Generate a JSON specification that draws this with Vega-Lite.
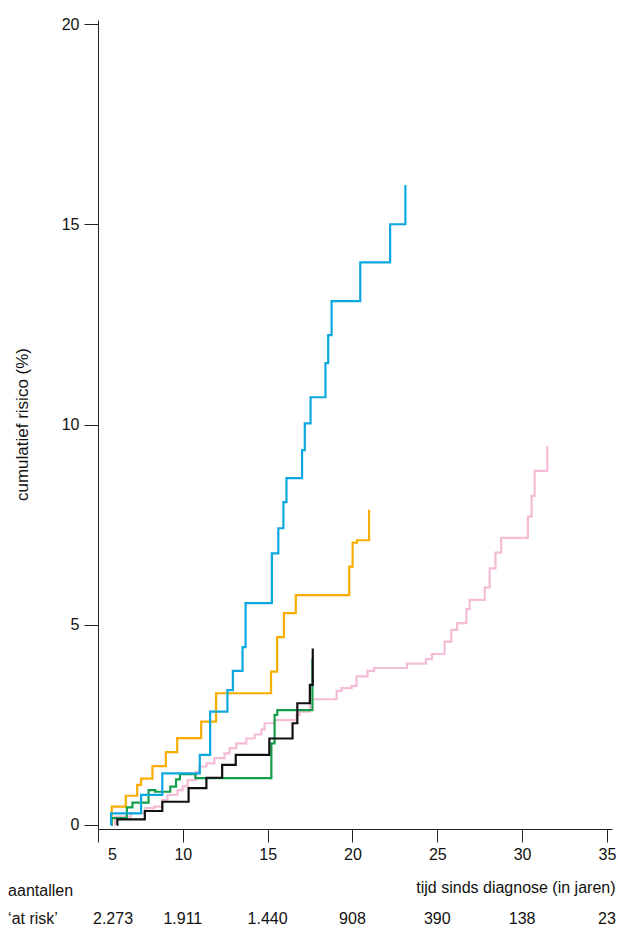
{
  "$schema": "https://vega.github.io/schema/vega-lite/v6.json",
  "width": 514,
  "height": 809,
  "autosize": {"type": "none"},
  "padding": {"left": 98, "top": 20, "right": 6, "bottom": 99},
  "background": "white",
  "config": {
    "view": {"stroke": null},
    "font": "Liberation Sans",
    "axis": {"grid": false, "domainColor": "#222", "tickColor": "#222", "labelColor": "#111", "titleColor": "#111", "labelFont": "Liberation Sans", "titleFont": "Liberation Sans", "titleFontWeight": "normal", "labelFontSize": 16, "titleFontSize": 16}
  },
  "datasets": {
    "curves": [
      {"g":"blue","t":5.76,"v":0},{"g":"blue","t":5.77,"v":0.29},{"g":"blue","t":7.54,"v":0.75},{"g":"blue","t":8.79,"v":1.29},{"g":"blue","t":11.0,"v":1.75},{"g":"blue","t":11.61,"v":2.83},{"g":"blue","t":12.63,"v":3.37},{"g":"blue","t":12.95,"v":3.85},{"g":"blue","t":13.52,"v":4.44},{"g":"blue","t":13.7,"v":5.54},{"g":"blue","t":15.25,"v":6.78},{"g":"blue","t":15.63,"v":7.41},{"g":"blue","t":15.93,"v":8.06},{"g":"blue","t":16.11,"v":8.66},{"g":"blue","t":17.03,"v":9.36},{"g":"blue","t":17.19,"v":10.03},{"g":"blue","t":17.53,"v":10.68},{"g":"blue","t":18.41,"v":11.53},{"g":"blue","t":18.57,"v":12.23},{"g":"blue","t":18.77,"v":13.08},{"g":"blue","t":20.46,"v":14.05},{"g":"blue","t":22.22,"v":15.0},{"g":"blue","t":23.12,"v":15.98},
      {"g":"orange","t":5.8,"v":0},{"g":"orange","t":5.81,"v":0.46},{"g":"orange","t":6.64,"v":0.73},{"g":"orange","t":7.31,"v":1.0},{"g":"orange","t":7.54,"v":1.16},{"g":"orange","t":8.21,"v":1.47},{"g":"orange","t":9.0,"v":1.82},{"g":"orange","t":9.67,"v":2.17},{"g":"orange","t":11.08,"v":2.58},{"g":"orange","t":11.96,"v":3.29},{"g":"orange","t":15.2,"v":3.83},{"g":"orange","t":15.56,"v":4.69},{"g":"orange","t":15.96,"v":5.29},{"g":"orange","t":16.66,"v":5.74},{"g":"orange","t":19.81,"v":6.45},{"g":"orange","t":20.01,"v":7.05},{"g":"orange","t":20.27,"v":7.11},{"g":"orange","t":20.98,"v":7.87},
      {"g":"pink","t":5.99,"v":0},{"g":"pink","t":6.0,"v":0.21},{"g":"pink","t":6.95,"v":0.3},{"g":"pink","t":7.78,"v":0.42},{"g":"pink","t":8.31,"v":0.46},{"g":"pink","t":8.79,"v":0.62},{"g":"pink","t":9.1,"v":0.75},{"g":"pink","t":9.69,"v":0.87},{"g":"pink","t":9.99,"v":0.97},{"g":"pink","t":10.28,"v":1.12},{"g":"pink","t":10.78,"v":1.33},{"g":"pink","t":10.98,"v":1.46},{"g":"pink","t":11.39,"v":1.54},{"g":"pink","t":11.86,"v":1.67},{"g":"pink","t":12.46,"v":1.79},{"g":"pink","t":12.75,"v":1.92},{"g":"pink","t":13.15,"v":2.04},{"g":"pink","t":13.74,"v":2.16},{"g":"pink","t":14.23,"v":2.26},{"g":"pink","t":14.63,"v":2.39},{"g":"pink","t":14.82,"v":2.54},{"g":"pink","t":15.41,"v":2.62},{"g":"pink","t":16.7,"v":2.75},{"g":"pink","t":16.89,"v":2.83},{"g":"pink","t":17.49,"v":3.14},{"g":"pink","t":19.07,"v":3.35},{"g":"pink","t":19.36,"v":3.42},{"g":"pink","t":19.95,"v":3.47},{"g":"pink","t":20.24,"v":3.71},{"g":"pink","t":20.89,"v":3.85},{"g":"pink","t":21.28,"v":3.92},{"g":"pink","t":23.21,"v":4.03},{"g":"pink","t":24.33,"v":4.14},{"g":"pink","t":24.68,"v":4.27},{"g":"pink","t":25.43,"v":4.58},{"g":"pink","t":25.83,"v":4.87},{"g":"pink","t":26.17,"v":5.04},{"g":"pink","t":26.72,"v":5.39},{"g":"pink","t":26.91,"v":5.62},{"g":"pink","t":27.8,"v":5.93},{"g":"pink","t":28.09,"v":6.41},{"g":"pink","t":28.43,"v":6.8},{"g":"pink","t":28.77,"v":7.17},{"g":"pink","t":30.34,"v":7.7},{"g":"pink","t":30.56,"v":8.22},{"g":"pink","t":30.74,"v":8.84},{"g":"pink","t":31.49,"v":9.46},
      {"g":"green","t":5.79,"v":0},{"g":"green","t":5.8,"v":0.17},{"g":"green","t":6.7,"v":0.44},{"g":"green","t":7.03,"v":0.56},{"g":"green","t":7.98,"v":0.87},{"g":"green","t":8.37,"v":0.83},{"g":"green","t":9.26,"v":0.96},{"g":"green","t":9.6,"v":1.14},{"g":"green","t":9.83,"v":1.27},{"g":"green","t":10.74,"v":1.17},{"g":"green","t":15.22,"v":2.04},{"g":"green","t":15.41,"v":2.75},{"g":"green","t":15.57,"v":2.87},{"g":"green","t":17.64,"v":4.15},
      {"g":"black","t":6.13,"v":0},{"g":"black","t":6.14,"v":0.14},{"g":"black","t":7.76,"v":0.35},{"g":"black","t":8.79,"v":0.58},{"g":"black","t":10.34,"v":0.92},{"g":"black","t":11.39,"v":1.18},{"g":"black","t":12.32,"v":1.5},{"g":"black","t":13.12,"v":1.75},{"g":"black","t":15.1,"v":2.16},{"g":"black","t":16.47,"v":2.54},{"g":"black","t":16.75,"v":3.04},{"g":"black","t":17.49,"v":3.5},{"g":"black","t":17.66,"v":4.41}
    ],
    "risk": [
      {"t":5,"n":"2.273"},{"t":10,"n":"1.911"},{"t":15,"n":"1.440"},{"t":20,"n":"908"},{"t":25,"n":"390"},{"t":30,"n":"138"},{"t":35,"n":"23"}
    ],
    "labels": [
      {"l":"aantallen","row":1},{"l":"‘at risk’","row":2}
    ]
  },
  "layer": [
    {
      "data": {"name": "curves"},
      "transform": [{"filter": "datum.g == 'pink'"}],
      "mark": {"type": "line", "interpolate": "step-after", "color": "#f4bcd6", "strokeWidth": 2.2},
      "encoding": {
        "x": {
          "field": "t", "type": "quantitative",
          "scale": {"domain": [5, 35.3], "nice": false, "zero": false},
          "axis": {
            "values": [5, 10, 15, 20, 25, 30, 35],
            "tickSize": 13, "labelPadding": 4, "labelFlush": false, "labelOverlap": false,
            "labelOffset": {"condition": {"test": "datum.value == 5", "value": 14}, "value": 0},
            "title": "tijd sinds diagnose (in jaren)",
            "titleAnchor": "end", "titleAlign": "right", "titleBaseline": "alphabetic",
            "titleX": 517, "titleY": 63
          }
        },
        "y": {
          "field": "v", "type": "quantitative",
          "scale": {"domain": [-0.1, 20.1], "nice": false, "zero": false},
          "axis": {
            "values": [0, 5, 10, 15, 20],
            "tickSize": 14, "labelPadding": 5,
            "title": "cumulatief risico (%)",
            "titleFontSize": 17, "titleAngle": 270, "titleAlign": "center", "titleBaseline": "middle",
            "titleX": -76, "titleY": 404
          }
        }
      }
    },
    {"data": {"name": "curves"}, "transform": [{"filter": "datum.g == 'orange'"}], "mark": {"type": "line", "interpolate": "step-after", "color": "#f8ad00", "strokeWidth": 2.2}, "encoding": {"x": {"field": "t", "type": "quantitative"}, "y": {"field": "v", "type": "quantitative"}}},
    {"data": {"name": "curves"}, "transform": [{"filter": "datum.g == 'green'"}], "mark": {"type": "line", "interpolate": "step-after", "color": "#159f4a", "strokeWidth": 2.2}, "encoding": {"x": {"field": "t", "type": "quantitative"}, "y": {"field": "v", "type": "quantitative"}}},
    {"data": {"name": "curves"}, "transform": [{"filter": "datum.g == 'blue'"}], "mark": {"type": "line", "interpolate": "step-after", "color": "#0ba7e0", "strokeWidth": 2.2}, "encoding": {"x": {"field": "t", "type": "quantitative"}, "y": {"field": "v", "type": "quantitative"}}},
    {"data": {"name": "curves"}, "transform": [{"filter": "datum.g == 'black'"}], "mark": {"type": "line", "interpolate": "step-after", "color": "#111111", "strokeWidth": 2.2}, "encoding": {"x": {"field": "t", "type": "quantitative"}, "y": {"field": "v", "type": "quantitative"}}},
    {"data": {"name": "risk"}, "transform": [{"filter": "datum.t == 5"}], "mark": {"type": "text", "fontSize": 16, "align": "center", "baseline": "alphabetic", "dx": 15, "fill": "#111"}, "encoding": {"x": {"field": "t", "type": "quantitative"}, "y": {"datum": -2.47, "type": "quantitative"}, "text": {"field": "n", "type": "nominal"}}},
    {"data": {"name": "risk"}, "transform": [{"filter": "datum.t > 5"}], "mark": {"type": "text", "fontSize": 16, "align": "center", "baseline": "alphabetic", "fill": "#111"}, "encoding": {"x": {"field": "t", "type": "quantitative"}, "y": {"datum": -2.47, "type": "quantitative"}, "text": {"field": "n", "type": "nominal"}}},
    {"data": {"name": "labels"}, "transform": [{"filter": "datum.row == 1"}], "mark": {"type": "text", "fontSize": 16, "align": "left", "baseline": "alphabetic", "fill": "#111"}, "encoding": {"x": {"datum": -0.3, "type": "quantitative"}, "y": {"datum": -1.77, "type": "quantitative"}, "text": {"field": "l", "type": "nominal"}}},
    {"data": {"name": "labels"}, "transform": [{"filter": "datum.row == 2"}], "mark": {"type": "text", "fontSize": 16, "align": "left", "baseline": "alphabetic", "fill": "#111"}, "encoding": {"x": {"datum": -0.3, "type": "quantitative"}, "y": {"datum": -2.47, "type": "quantitative"}, "text": {"field": "l", "type": "nominal"}}}
  ]
}
